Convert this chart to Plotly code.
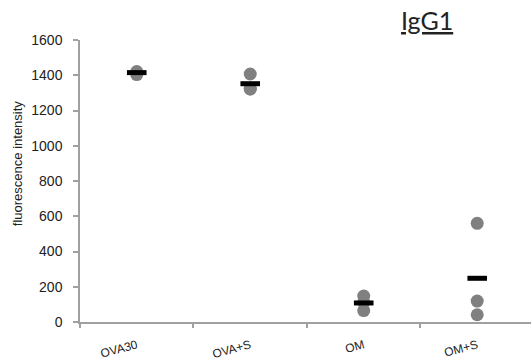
import plotly.graph_objects as go

# IgG1 fluorescence per group: individual animals and group mean
groups = ["OVA30", "OVA+S", "OM", "OM+S"]
values = [
    [1421, 1404],
    [1407, 1322, 1322],
    [147, 112, 65],
    [560, 119, 41],
]
means = [1415, 1352, 108, 248]
y_ticks = [0, 200, 400, 600, 800, 1000, 1200, 1400, 1600]

pt_x, pt_y = [], []
for g, vals in zip(groups, values):
    pt_x += [g] * len(vals)
    pt_y += vals

fig = go.Figure()
fig.add_trace(go.Scatter(
    x=pt_x, y=pt_y, mode="markers",
    marker=dict(symbol="circle", size=13, color="#808080", line=dict(width=0)),
    hoverinfo="y", showlegend=False,
))
fig.add_trace(go.Scatter(
    x=groups, y=means, mode="markers",
    marker=dict(symbol="line-ew", size=14, color="black",
                line=dict(width=5, color="black")),
    hoverinfo="y", showlegend=False,
))

axis_grey = "#a0a0a0"
fig.update_layout(
    width=531, height=360,
    margin=dict(l=80, r=0, t=40, b=38),
    paper_bgcolor="white", plot_bgcolor="white",
    font=dict(family="Arial, Liberation Sans, sans-serif", color="#222"),
    xaxis=dict(
        type="category", categoryorder="array", categoryarray=groups,
        range=[-0.5, 3.474],
        tickson="boundaries", ticks="outside", ticklen=4, tickcolor=axis_grey,
        tickwidth=1.5,
        showline=True, linecolor=axis_grey, linewidth=1.5,
        showgrid=False, zeroline=False,
        tickangle=-15, tickfont=dict(size=12), ticklabelstandoff=10,
    ),
    yaxis=dict(
        range=[0, 1600], tickvals=y_ticks,
        ticks="outside", ticklen=5, tickcolor=axis_grey, tickwidth=1.5,
        showline=True, linecolor=axis_grey, linewidth=1.5,
        showgrid=False, zeroline=False,
        tickfont=dict(size=14), ticklabelstandoff=8,
    ),
    annotations=[
        dict(text="<u>IgG1</u>", xref="paper", yref="paper",
             x=0.769, y=1.071, xanchor="center", yanchor="middle",
             showarrow=False,
             font=dict(family="Lato, Open Sans, sans-serif", size=25, color="#222")),
        dict(text="fluorescence intensity", xref="paper", yref="paper",
             x=-0.137, y=0.564, xanchor="center", yanchor="middle",
             textangle=-90, showarrow=False,
             font=dict(size=13, color="#222")),
    ],
)

fig.write_html("out.html")
